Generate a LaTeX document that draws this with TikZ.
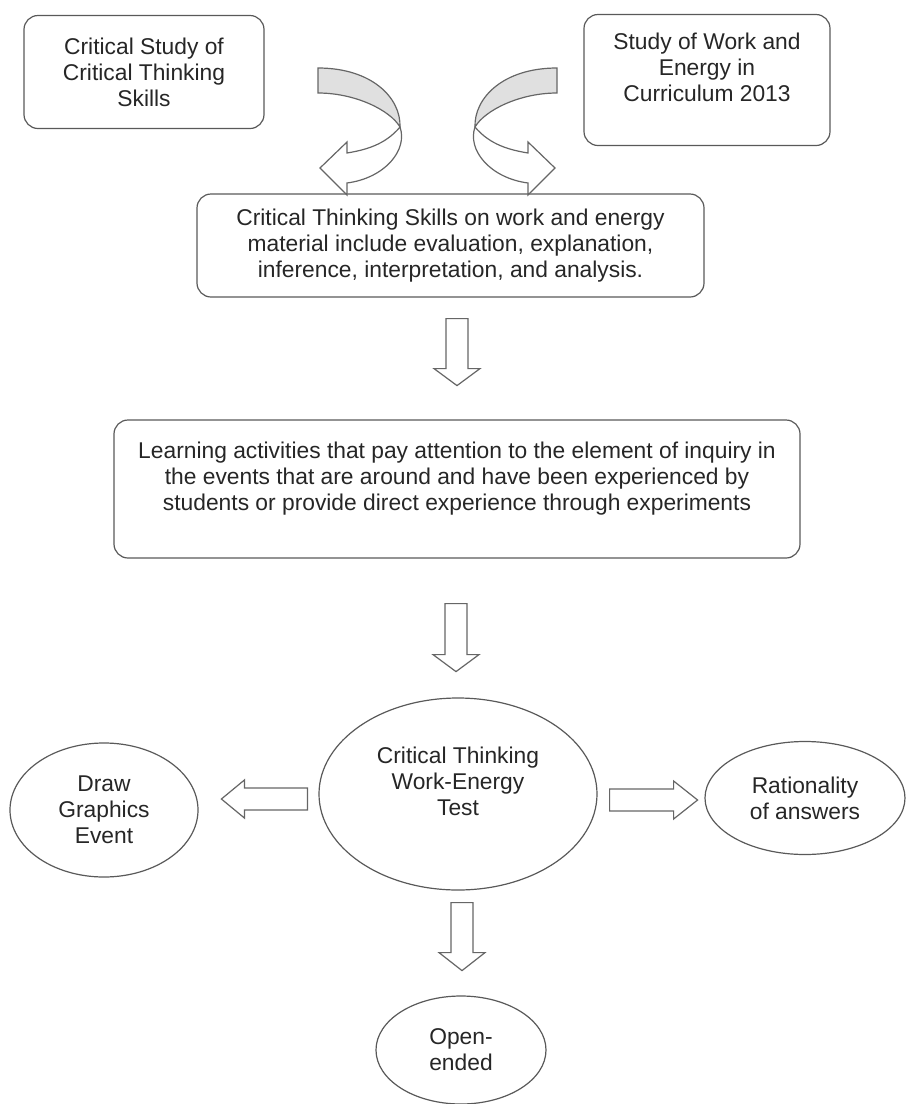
\documentclass[tikz,border=0pt]{standalone}
\usepackage{fontspec}
\setmainfont{Liberation Sans}
\usepackage{tikz}
\usetikzlibrary{shapes.geometric,calc}
\tikzstyle{every node}=[text=black!85,font=\fontsize{11.4}{13}\selectfont,align=center]
\tikzstyle{box}=[draw=black!65,line width=0.6pt,rounded corners=7pt]
\tikzstyle{oval}=[draw=black!65,line width=0.6pt,ellipse,inner sep=0pt]
\tikzstyle{blockarrow}=[draw=black!60,line width=0.6pt,fill=white,line join=miter]
\tikzstyle{bandback}=[draw=black!60,line width=0.6pt,fill=black!12]

\begin{document}
\begin{tikzpicture}[x=0.5pt,y=-0.5pt]
	\useasboundingbox (0,0) rectangle (907,1104);
	% boxes
	\node[box,minimum width=120pt,minimum height=56.5pt] (critstudy) at (144,72) {Critical Study of\\Critical Thinking\\Skills};
	\node[box,minimum width=123pt,minimum height=65.5pt] (workstudy) at (707,80) {Study of Work and\\Energy in\\Curriculum 2013\\\mbox{}};
	\node[box,minimum width=253.5pt,minimum height=51.5pt] (skills) at (450.5,245.5) {Critical Thinking Skills on work and energy\\material include evaluation, explanation,\\inference, interpretation, and analysis.};
	\node[box,minimum width=343pt,minimum height=69pt] (learning) at (457,489) {Learning activities that pay attention to the element of inquiry in\\the events that are around and have been experienced by\\students or provide direct experience through experiments\\\mbox{}};
	% ovals
	\node[oval,minimum width=139pt,minimum height=96pt] (test) at (458,794) {Critical Thinking\\Work-Energy\\Test\\\mbox{}};
	\node[oval,minimum width=94pt,minimum height=67pt] (graphics) at (104,810) {Draw\\Graphics\\Event};
	\node[oval,minimum width=100pt,minimum height=56.5pt] (rational) at (805,798) {Rationality\\of answers};
	\node[oval,minimum width=85pt,minimum height=54pt] (openended) at (461,1050) {Open-\\ended};
	% curved arrows into the skills box
	\draw[bandback] (318,68) .. controls (372,68) and (401,98) .. (400,127) .. controls (390,110) and (355,93) .. (318,93) -- cycle;
	\draw[blockarrow] (400,127) .. controls (385,145) and (365,150) .. (347,153) -- (347,142) -- (320,168) -- (347,195) -- (347,183) .. controls (385,178) and (408,150) .. (400,127) -- cycle;
	\draw[bandback] (557,68) .. controls (503,68) and (474,98) .. (475,127) .. controls (485,110) and (520,93) .. (557,93) -- cycle;
	\draw[blockarrow] (475,127) .. controls (490,145) and (510,150) .. (528,153) -- (528,142) -- (555,168) -- (528,195) -- (528,183) .. controls (490,178) and (467,150) .. (475,127) -- cycle;
	% straight block arrows
	\draw[blockarrow] ($(skills.south)+(-4.5,21)$) -- ++(22,0) -- ++(0,50) -- ++(12,0) -- ++(-23,17) -- ++(-23,-17) -- ++(12,0) -- cycle;
	\draw[blockarrow] ($(learning.south)+(-12,45)$) -- ++(22,0) -- ++(0,51) -- ++(12,0) -- ++(-23,17) -- ++(-23,-17) -- ++(12,0) -- cycle;
	\draw[blockarrow] ($(test.south)+(-7,12)$) -- ++(22,0) -- ++(0,50) -- ++(12,0) -- ++(-23,18) -- ++(-23,-18) -- ++(12,0) -- cycle;
	\draw[blockarrow] ($(test.west)+(-11,-6)$) -- ++(-63,0) -- ++(0,-8) -- ++(-23,19) -- ++(23,19) -- ++(0,-8) -- ++(63,0) -- cycle;
	\draw[blockarrow] ($(test.east)+(12,-5)$) -- ++(64,0) -- ++(0,-8) -- ++(24,19) -- ++(-24,19) -- ++(0,-8) -- ++(-64,0) -- cycle;
\end{tikzpicture}
\end{document}
